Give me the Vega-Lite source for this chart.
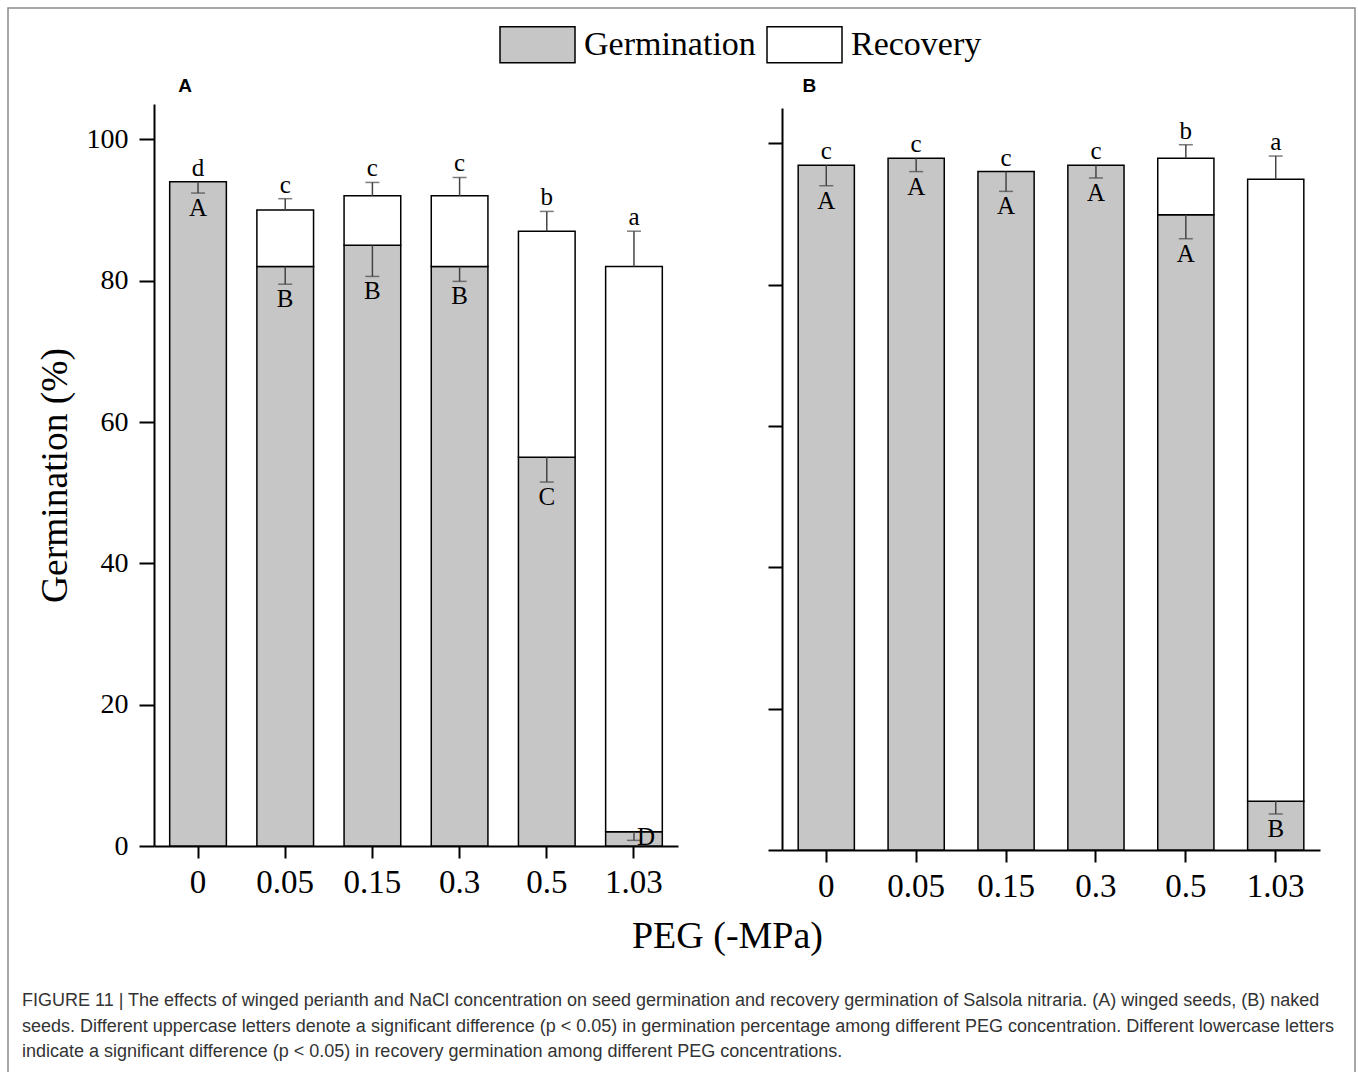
{
  "$schema": "https://vega.github.io/schema/vega-lite/v6.json",
  "width": 1347,
  "height": 1080,
  "autosize": {"type": "none"},
  "padding": {"left": 8, "top": 8, "right": 3, "bottom": -16},
  "background": "white",
  "title": {
    "text": [
      "FIGURE 11 | The effects of winged perianth and NaCl concentration on seed germination and recovery germination of Salsola nitraria. (A) winged seeds, (B) naked",
      "seeds. Different uppercase letters denote a significant difference (p < 0.05) in germination percentage among different PEG concentration. Different lowercase letters",
      "indicate a significant difference (p < 0.05) in recovery germination among different PEG concentrations."
    ],
    "orient": "bottom",
    "anchor": "start",
    "frame": "group",
    "offset": -96,
    "dx": 14,
    "baseline": "top",
    "font": "Liberation Sans",
    "fontSize": 18,
    "fontWeight": "normal",
    "color": "#333333",
    "lineHeight": 25.5
  },
  "datasets": {
    "barsA": [
      {"peg": "0", "type": "Germination", "value": 94},
      {"peg": "0.05", "type": "Germination", "value": 82},
      {"peg": "0.15", "type": "Germination", "value": 85},
      {"peg": "0.3", "type": "Germination", "value": 82},
      {"peg": "0.5", "type": "Germination", "value": 55},
      {"peg": "1.03", "type": "Germination", "value": 2},
      {"peg": "0.05", "type": "Recovery", "value": 8},
      {"peg": "0.15", "type": "Recovery", "value": 7},
      {"peg": "0.3", "type": "Recovery", "value": 10},
      {"peg": "0.5", "type": "Recovery", "value": 32},
      {"peg": "1.03", "type": "Recovery", "value": 80}
    ],
    "errA": [
      {"peg": "0", "type": "Germination", "top": 94, "end": 92.4, "letter": "A"},
      {"peg": "0.05", "type": "Germination", "top": 82, "end": 79.5, "letter": "B"},
      {"peg": "0.15", "type": "Germination", "top": 85, "end": 80.6, "letter": "B"},
      {"peg": "0.3", "type": "Germination", "top": 82, "end": 79.9, "letter": "B"},
      {"peg": "0.5", "type": "Germination", "top": 55, "end": 51.5, "letter": "C"},
      {"peg": "1.03", "type": "Germination", "top": 2, "end": 0.8, "letter": "D"},
      {"peg": "0", "type": "Recovery", "top": 94, "end": 94, "letter": "d"},
      {"peg": "0.05", "type": "Recovery", "top": 90, "end": 91.6, "letter": "c"},
      {"peg": "0.15", "type": "Recovery", "top": 92, "end": 93.9, "letter": "c"},
      {"peg": "0.3", "type": "Recovery", "top": 92, "end": 94.6, "letter": "c"},
      {"peg": "0.5", "type": "Recovery", "top": 87, "end": 89.8, "letter": "b"},
      {"peg": "1.03", "type": "Recovery", "top": 82, "end": 87, "letter": "a"}
    ],
    "barsB": [
      {"peg": "0", "type": "Germination", "value": 96.9},
      {"peg": "0.05", "type": "Germination", "value": 97.9},
      {"peg": "0.15", "type": "Germination", "value": 96.0},
      {"peg": "0.3", "type": "Germination", "value": 96.9},
      {"peg": "0.5", "type": "Germination", "value": 89.9},
      {"peg": "1.03", "type": "Germination", "value": 6.9},
      {"peg": "0.5", "type": "Recovery", "value": 8.0},
      {"peg": "1.03", "type": "Recovery", "value": 88.0}
    ],
    "errB": [
      {"peg": "0", "type": "Germination", "top": 96.9, "end": 94.0, "letter": "A"},
      {"peg": "0.05", "type": "Germination", "top": 97.9, "end": 96.0, "letter": "A"},
      {"peg": "0.15", "type": "Germination", "top": 96.0, "end": 93.2, "letter": "A"},
      {"peg": "0.3", "type": "Germination", "top": 96.9, "end": 95.1, "letter": "A"},
      {"peg": "0.5", "type": "Germination", "top": 89.9, "end": 86.5, "letter": "A"},
      {"peg": "1.03", "type": "Germination", "top": 6.9, "end": 5.1, "letter": "B"},
      {"peg": "0", "type": "Recovery", "top": 96.9, "end": 96.9, "letter": "c"},
      {"peg": "0.05", "type": "Recovery", "top": 97.9, "end": 97.9, "letter": "c"},
      {"peg": "0.15", "type": "Recovery", "top": 96.0, "end": 96.0, "letter": "c"},
      {"peg": "0.3", "type": "Recovery", "top": 96.9, "end": 96.9, "letter": "c"},
      {"peg": "0.5", "type": "Recovery", "top": 97.9, "end": 99.8, "letter": "b"},
      {"peg": "1.03", "type": "Recovery", "top": 94.9, "end": 98.2, "letter": "a"}
    ]
  },
  "layer": [
    {
      "layer": [
        {
          "data": {"name": "barsA"},
          "mark": {"type": "bar", "stroke": "black", "strokeWidth": 1.5},
          "encoding": {
            "x": {"field": "peg", "type": "nominal", "sort": ["0","0.05","0.15","0.3","0.5","1.03"], "scale": {"range": [146, 670], "paddingInner": 0.35, "paddingOuter": 0.18}, "axis": {"orient": "bottom", "offset": -242, "labelAngle": 0, "labelFontSize": 33, "tickSize": 12, "labelPadding": 8, "title": "PEG (-MPa)", "titleX": 719, "titleY": 101, "titleAlign": "center", "titleBaseline": "alphabetic", "titleFontSize": 38}},
            "y": {"field": "value", "type": "quantitative", "stack": "zero", "scale": {"domain": [0, 105], "range": [838, 96], "nice": false}, "axis": {"orient": "left", "offset": -146, "values": [0,20,40,60,80,100], "labelFontSize": 28, "tickSize": 15, "labelPadding": 11, "title": "Germination (%)", "titleFontSize": 37.5, "titlePadding": 12}},
            "fill": {"field": "type", "type": "nominal", "scale": {"domain": ["Germination", "Recovery"], "range": ["#c6c6c6", "#ffffff"]}, "legend": {"orient": "none", "legendX": 491, "legendY": -2, "direction": "horizontal", "title": null, "symbolType": "M-1,-0.48H1V0.48H-1Z", "symbolSize": 5625, "symbolStrokeColor": "black", "symbolStrokeWidth": 1.5, "symbolOpacity": 1, "labelFont": "Liberation Serif", "labelFontSize": 34, "labelColor": "black", "labelOffset": 8, "columnPadding": 8, "padding": 0, "labelLimit": 400}},
            "order": {"field": "type", "sort": "ascending"}
          }
        },
        {
          "data": {"name": "errA"},
          "transform": [{"filter": "datum.top != datum.end"}],
          "mark": {"type": "rule", "stroke": "#444444", "strokeWidth": 1.5},
          "encoding": {
            "x": {"field": "peg", "type": "nominal", "sort": ["0","0.05","0.15","0.3","0.5","1.03"], "scale": {"range": [146, 670], "paddingInner": 0.35, "paddingOuter": 0.18}, "axis": {"orient": "bottom", "offset": -242, "labelAngle": 0, "labelFontSize": 33, "tickSize": 12, "labelPadding": 8, "title": "PEG (-MPa)", "titleX": 719, "titleY": 101, "titleAlign": "center", "titleBaseline": "alphabetic", "titleFontSize": 38}},
            "y": {"field": "top", "type": "quantitative", "scale": {"domain": [0, 105], "range": [838, 96], "nice": false}, "axis": {"orient": "left", "offset": -146, "values": [0,20,40,60,80,100], "labelFontSize": 28, "tickSize": 15, "labelPadding": 11, "title": "Germination (%)", "titleFontSize": 37.5, "titlePadding": 12}},
            "y2": {"field": "end"}
          }
        },
        {
          "data": {"name": "errA"},
          "transform": [{"filter": "datum.top != datum.end"}],
          "mark": {"type": "tick", "orient": "horizontal", "size": 14, "thickness": 1.5, "color": "#444444"},
          "encoding": {
            "x": {"field": "peg", "type": "nominal", "sort": ["0","0.05","0.15","0.3","0.5","1.03"], "scale": {"range": [146, 670], "paddingInner": 0.35, "paddingOuter": 0.18}, "axis": {"orient": "bottom", "offset": -242, "labelAngle": 0, "labelFontSize": 33, "tickSize": 12, "labelPadding": 8, "title": "PEG (-MPa)", "titleX": 719, "titleY": 101, "titleAlign": "center", "titleBaseline": "alphabetic", "titleFontSize": 38}},
            "y": {"field": "end", "type": "quantitative", "scale": {"domain": [0, 105], "range": [838, 96], "nice": false}, "axis": {"orient": "left", "offset": -146, "values": [0,20,40,60,80,100], "labelFontSize": 28, "tickSize": 15, "labelPadding": 11, "title": "Germination (%)", "titleFontSize": 37.5, "titlePadding": 12}}
          }
        },
        {
          "data": {"name": "errA"},
          "transform": [{"filter": "datum.type == 'Recovery'"}],
          "mark": {"type": "text", "font": "Liberation Serif", "fontSize": 25, "color": "black", "baseline": "alphabetic", "dy": -6},
          "encoding": {
            "x": {"field": "peg", "type": "nominal", "sort": ["0","0.05","0.15","0.3","0.5","1.03"], "scale": {"range": [146, 670], "paddingInner": 0.35, "paddingOuter": 0.18}, "axis": {"orient": "bottom", "offset": -242, "labelAngle": 0, "labelFontSize": 33, "tickSize": 12, "labelPadding": 8, "title": "PEG (-MPa)", "titleX": 719, "titleY": 101, "titleAlign": "center", "titleBaseline": "alphabetic", "titleFontSize": 38}},
            "y": {"field": "end", "type": "quantitative", "scale": {"domain": [0, 105], "range": [838, 96], "nice": false}, "axis": {"orient": "left", "offset": -146, "values": [0,20,40,60,80,100], "labelFontSize": 28, "tickSize": 15, "labelPadding": 11, "title": "Germination (%)", "titleFontSize": 37.5, "titlePadding": 12}},
            "text": {"field": "letter"}
          }
        },
        {
          "data": {"name": "errA"},
          "transform": [{"filter": "datum.type == 'Germination' && datum.letter != 'D'"}],
          "mark": {"type": "text", "font": "Liberation Serif", "fontSize": 25, "color": "black", "baseline": "alphabetic", "dy": 23},
          "encoding": {
            "x": {"field": "peg", "type": "nominal", "sort": ["0","0.05","0.15","0.3","0.5","1.03"], "scale": {"range": [146, 670], "paddingInner": 0.35, "paddingOuter": 0.18}, "axis": {"orient": "bottom", "offset": -242, "labelAngle": 0, "labelFontSize": 33, "tickSize": 12, "labelPadding": 8, "title": "PEG (-MPa)", "titleX": 719, "titleY": 101, "titleAlign": "center", "titleBaseline": "alphabetic", "titleFontSize": 38}},
            "y": {"field": "end", "type": "quantitative", "scale": {"domain": [0, 105], "range": [838, 96], "nice": false}, "axis": {"orient": "left", "offset": -146, "values": [0,20,40,60,80,100], "labelFontSize": 28, "tickSize": 15, "labelPadding": 11, "title": "Germination (%)", "titleFontSize": 37.5, "titlePadding": 12}},
            "text": {"field": "letter"}
          }
        },
        {
          "data": {"name": "errA"},
          "transform": [{"filter": "datum.letter == 'D'"}],
          "mark": {"type": "text", "font": "Liberation Serif", "fontSize": 25, "color": "black", "baseline": "alphabetic", "dy": 5, "dx": 12},
          "encoding": {
            "x": {"field": "peg", "type": "nominal", "sort": ["0","0.05","0.15","0.3","0.5","1.03"], "scale": {"range": [146, 670], "paddingInner": 0.35, "paddingOuter": 0.18}, "axis": {"orient": "bottom", "offset": -242, "labelAngle": 0, "labelFontSize": 33, "tickSize": 12, "labelPadding": 8, "title": "PEG (-MPa)", "titleX": 719, "titleY": 101, "titleAlign": "center", "titleBaseline": "alphabetic", "titleFontSize": 38}},
            "y": {"field": "end", "type": "quantitative", "scale": {"domain": [0, 105], "range": [838, 96], "nice": false}, "axis": {"orient": "left", "offset": -146, "values": [0,20,40,60,80,100], "labelFontSize": 28, "tickSize": 15, "labelPadding": 11, "title": "Germination (%)", "titleFontSize": 37.5, "titlePadding": 12}},
            "text": {"field": "letter"}
          }
        },
        {
          "data": {"values": [{"panel": "A", "peg": "0", "ytop": 105}]},
          "mark": {"type": "text", "font": "Liberation Sans", "fontWeight": "bold", "fontSize": 19, "color": "black", "baseline": "middle", "dx": -13, "dy": -18},
          "encoding": {
            "x": {"field": "peg", "type": "nominal", "sort": ["0","0.05","0.15","0.3","0.5","1.03"], "scale": {"range": [146, 670], "paddingInner": 0.35, "paddingOuter": 0.18}, "axis": {"orient": "bottom", "offset": -242, "labelAngle": 0, "labelFontSize": 33, "tickSize": 12, "labelPadding": 8, "title": "PEG (-MPa)", "titleX": 719, "titleY": 101, "titleAlign": "center", "titleBaseline": "alphabetic", "titleFontSize": 38}},
            "y": {"field": "ytop", "type": "quantitative", "scale": {"domain": [0, 105], "range": [838, 96], "nice": false}, "axis": {"orient": "left", "offset": -146, "values": [0,20,40,60,80,100], "labelFontSize": 28, "tickSize": 15, "labelPadding": 11, "title": "Germination (%)", "titleFontSize": 37.5, "titlePadding": 12}},
            "text": {"field": "panel"}
          }
        }
      ]
    },
    {
      "layer": [
        {
          "data": {"name": "barsB"},
          "mark": {"type": "bar", "stroke": "black", "strokeWidth": 1.5},
          "encoding": {
            "x": {"field": "peg", "type": "nominal", "sort": ["0","0.05","0.15","0.3","0.5","1.03"], "scale": {"range": [774, 1312], "paddingInner": 0.375, "paddingOuter": 0.18}, "axis": {"orient": "bottom", "offset": -238, "labelAngle": 0, "labelFontSize": 33, "tickSize": 12, "labelPadding": 8, "title": null}},
            "y": {"field": "value", "type": "quantitative", "stack": "zero", "scale": {"domain": [0, 105], "range": [842, 100], "nice": false}, "axis": {"orient": "left", "offset": -774, "values": [0,20,40,60,80,100], "labels": false, "tickSize": 14, "title": null}},
            "fill": {"field": "type", "type": "nominal", "scale": {"domain": ["Germination", "Recovery"], "range": ["#c6c6c6", "#ffffff"]}, "legend": {"orient": "none", "legendX": 491, "legendY": -2, "direction": "horizontal", "title": null, "symbolType": "M-1,-0.48H1V0.48H-1Z", "symbolSize": 5625, "symbolStrokeColor": "black", "symbolStrokeWidth": 1.5, "symbolOpacity": 1, "labelFont": "Liberation Serif", "labelFontSize": 34, "labelColor": "black", "labelOffset": 8, "columnPadding": 8, "padding": 0, "labelLimit": 400}},
            "order": {"field": "type", "sort": "ascending"}
          }
        },
        {
          "data": {"name": "errB"},
          "transform": [{"filter": "datum.top != datum.end"}],
          "mark": {"type": "rule", "stroke": "#444444", "strokeWidth": 1.5},
          "encoding": {
            "x": {"field": "peg", "type": "nominal", "sort": ["0","0.05","0.15","0.3","0.5","1.03"], "scale": {"range": [774, 1312], "paddingInner": 0.375, "paddingOuter": 0.18}, "axis": {"orient": "bottom", "offset": -238, "labelAngle": 0, "labelFontSize": 33, "tickSize": 12, "labelPadding": 8, "title": null}},
            "y": {"field": "top", "type": "quantitative", "scale": {"domain": [0, 105], "range": [842, 100], "nice": false}, "axis": {"orient": "left", "offset": -774, "values": [0,20,40,60,80,100], "labels": false, "tickSize": 14, "title": null}},
            "y2": {"field": "end"}
          }
        },
        {
          "data": {"name": "errB"},
          "transform": [{"filter": "datum.top != datum.end"}],
          "mark": {"type": "tick", "orient": "horizontal", "size": 14, "thickness": 1.5, "color": "#444444"},
          "encoding": {
            "x": {"field": "peg", "type": "nominal", "sort": ["0","0.05","0.15","0.3","0.5","1.03"], "scale": {"range": [774, 1312], "paddingInner": 0.375, "paddingOuter": 0.18}, "axis": {"orient": "bottom", "offset": -238, "labelAngle": 0, "labelFontSize": 33, "tickSize": 12, "labelPadding": 8, "title": null}},
            "y": {"field": "end", "type": "quantitative", "scale": {"domain": [0, 105], "range": [842, 100], "nice": false}, "axis": {"orient": "left", "offset": -774, "values": [0,20,40,60,80,100], "labels": false, "tickSize": 14, "title": null}}
          }
        },
        {
          "data": {"name": "errB"},
          "transform": [{"filter": "datum.type == 'Recovery'"}],
          "mark": {"type": "text", "font": "Liberation Serif", "fontSize": 25, "color": "black", "baseline": "alphabetic", "dy": -6},
          "encoding": {
            "x": {"field": "peg", "type": "nominal", "sort": ["0","0.05","0.15","0.3","0.5","1.03"], "scale": {"range": [774, 1312], "paddingInner": 0.375, "paddingOuter": 0.18}, "axis": {"orient": "bottom", "offset": -238, "labelAngle": 0, "labelFontSize": 33, "tickSize": 12, "labelPadding": 8, "title": null}},
            "y": {"field": "end", "type": "quantitative", "scale": {"domain": [0, 105], "range": [842, 100], "nice": false}, "axis": {"orient": "left", "offset": -774, "values": [0,20,40,60,80,100], "labels": false, "tickSize": 14, "title": null}},
            "text": {"field": "letter"}
          }
        },
        {
          "data": {"name": "errB"},
          "transform": [{"filter": "datum.type == 'Germination'"}],
          "mark": {"type": "text", "font": "Liberation Serif", "fontSize": 25, "color": "black", "baseline": "alphabetic", "dy": 23},
          "encoding": {
            "x": {"field": "peg", "type": "nominal", "sort": ["0","0.05","0.15","0.3","0.5","1.03"], "scale": {"range": [774, 1312], "paddingInner": 0.375, "paddingOuter": 0.18}, "axis": {"orient": "bottom", "offset": -238, "labelAngle": 0, "labelFontSize": 33, "tickSize": 12, "labelPadding": 8, "title": null}},
            "y": {"field": "end", "type": "quantitative", "scale": {"domain": [0, 105], "range": [842, 100], "nice": false}, "axis": {"orient": "left", "offset": -774, "values": [0,20,40,60,80,100], "labels": false, "tickSize": 14, "title": null}},
            "text": {"field": "letter"}
          }
        },
        {
          "data": {"values": [{"panel": "B", "peg": "0", "ytop": 105}]},
          "mark": {"type": "text", "font": "Liberation Sans", "fontWeight": "bold", "fontSize": 19, "color": "black", "baseline": "middle", "dx": -17, "dy": -22},
          "encoding": {
            "x": {"field": "peg", "type": "nominal", "sort": ["0","0.05","0.15","0.3","0.5","1.03"], "scale": {"range": [774, 1312], "paddingInner": 0.375, "paddingOuter": 0.18}, "axis": {"orient": "bottom", "offset": -238, "labelAngle": 0, "labelFontSize": 33, "tickSize": 12, "labelPadding": 8, "title": null}},
            "y": {"field": "ytop", "type": "quantitative", "scale": {"domain": [0, 105], "range": [842, 100], "nice": false}, "axis": {"orient": "left", "offset": -774, "values": [0,20,40,60,80,100], "labels": false, "tickSize": 14, "title": null}},
            "text": {"field": "panel"}
          }
        }
      ]
    }
  ],
  "resolve": {
    "scale": {"x": "independent", "y": "independent"},
    "axis": {"x": "independent", "y": "independent"}
  },
  "config": {
    "view": {"stroke": "#8c8c8c", "strokeWidth": 1.5},
    "axis": {
      "domainColor": "black",
      "domainWidth": 2,
      "tickColor": "black",
      "tickWidth": 2,
      "grid": false,
      "labelFont": "Liberation Serif",
      "labelColor": "black",
      "titleFont": "Liberation Serif",
      "titleColor": "black",
      "titleFontWeight": "normal"
    }
  }
}
